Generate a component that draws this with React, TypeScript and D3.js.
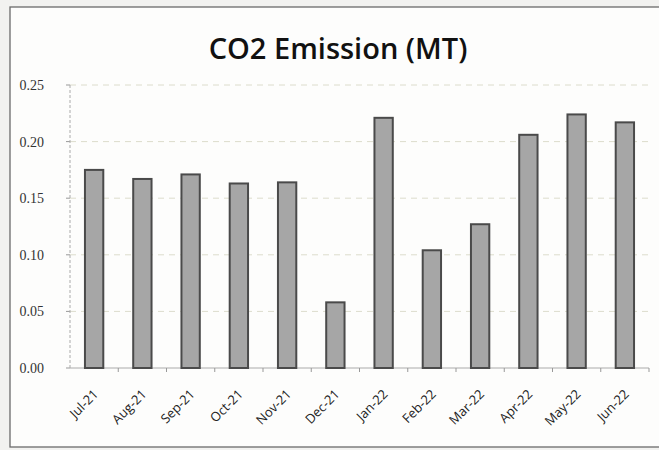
import React from "react";
import * as d3 from "d3";

const months = ["Jul-21","Aug-21","Sep-21","Oct-21","Nov-21","Dec-21","Jan-22","Feb-22","Mar-22","Apr-22","May-22","Jun-22"];
const emissions = [0.175,0.167,0.171,0.163,0.164,0.058,0.221,0.104,0.127,0.206,0.224,0.217];
const yTicks = [0,0.05,0.1,0.15,0.2,0.25];
const title = "CO2 Emission (MT)";

export default function App() {
  const W = 659, H = 450;
  const left = 70, right = 649, top = 85, bottom = 368;
  const x = d3.scaleBand().domain(months).range([left, right]).paddingInner(0.62).paddingOuter(0.31);
  const xc = d3.scaleBand().domain(months).range([left, right]);
  const y = d3.scaleLinear().domain([0, 0.25]).range([bottom, top]);
  return (
    <svg width={W} height={H} style={{ position: "absolute", left: 0, top: 0 }}>
      <rect x={0} y={0} width={W} height={H} fill="#f2f2f0" />
      <rect x={10} y={7} width={W} height={440} fill="#fdfdfc" stroke="#6a6a6a" strokeWidth={1.3} />
      <text x={338} y={59} textAnchor="middle" fontFamily="'Open Sans', sans-serif" fontWeight="600" fontSize={29} fill="#111">{title}</text>
      {yTicks.map((t) => (
        <g key={t}>
          {t > 0 && <line x1={left} x2={right} y1={y(t)} y2={y(t)} stroke="#dcdccc" strokeWidth={1} strokeDasharray="6 5" />}
          <line x1={left - 4} x2={left} y1={y(t)} y2={y(t)} stroke="#999" />
          <text x={44} y={y(t) + 5} textAnchor="end" fontFamily="'Liberation Serif', serif" fontSize={14} fill="#333">{t.toFixed(2)}</text>
        </g>
      ))}
      <line x1={left} x2={left} y1={top} y2={bottom} stroke="#aaa" strokeWidth={1} strokeDasharray="3 2" />
      <line x1={left} x2={right} y1={bottom} y2={bottom} stroke="#aaa" strokeWidth={1} />
      {months.map((m) => (
        <line key={"t" + m} x1={(xc(m) as number) + xc.bandwidth()} x2={(xc(m) as number) + xc.bandwidth()} y1={bottom} y2={bottom + 4} stroke="#999" />
      ))}
      {months.map((m, i) => (
        <rect key={m} x={x(m)} y={y(emissions[i])} width={x.bandwidth()} height={bottom - y(emissions[i])} fill="#a6a6a6" stroke="#4a4a4a" strokeWidth={2} />
      ))}
      {months.map((m) => {
        const cx = (xc(m) as number) + xc.bandwidth() / 2 + 5;
        return (
          <text key={"l" + m} transform={`translate(${cx},${bottom + 27}) rotate(-45)`} textAnchor="end" fontFamily="'Open Sans', sans-serif" fontSize={13} fill="#222">{m}</text>
        );
      })}
    </svg>
  );
}
